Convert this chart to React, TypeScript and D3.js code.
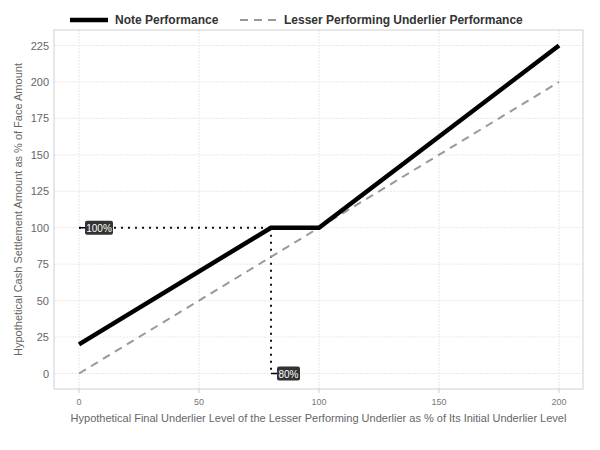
import React from "react";
import * as d3 from "d3";

const noteX = [0, 80, 100, 200];
const noteY = [20, 100, 100, 225];
const underX = [0, 200];
const underY = [0, 200];
const xTicks = [0, 50, 100, 150, 200];
const yTicks = [0, 25, 50, 75, 100, 125, 150, 175, 200, 225];
const barrierX = 80;
const capY = 100;
const labels = ["100%", "80%"];
const seriesNames = ["Note Performance", "Lesser Performing Underlier Performance"];

export default function App() {
  const W = 600, H = 450;
  const L = 54, R = 583, T = 30, B = 389;
  const x = d3.scaleLinear().domain([0, 200]).range([79, 559]);
  const y = d3.scaleLinear().domain([0, 225]).range([373.5, 45.5]);
  const line = d3.line<[number, number]>().x(d => x(d[0])).y(d => y(d[1]));
  const noteData: [number, number][] = noteX.map((v, i) => [v, noteY[i]]);
  const underData: [number, number][] = underX.map((v, i) => [v, underY[i]]);
  const font = "'Liberation Sans', Arial, sans-serif";
  return (
    <svg width={W} height={H} style={{ position: "absolute", left: 0, top: 0, background: "#fff" }} fontFamily={font}>
      <rect x={0} y={0} width={W} height={H} fill="#fff" />
      {/* grid */}
      {xTicks.map(t => (
        <line key={"gx" + t} x1={x(t)} x2={x(t)} y1={T} y2={B} stroke="#e3e3e3" strokeWidth={0.8} strokeDasharray="2,1" />
      ))}
      {yTicks.map(t => (
        <line key={"gy" + t} x1={L} x2={R} y1={y(t)} y2={y(t)} stroke="#e3e3e3" strokeWidth={0.8} strokeDasharray="2,1" />
      ))}
      <rect x={L} y={T} width={R - L} height={B - T} fill="none" stroke="#d0d0d0" strokeWidth={1} />
      {/* ticks */}
      {xTicks.map(t => (
        <g key={"tx" + t}>
          <line x1={x(t)} x2={x(t)} y1={B} y2={B + 4} stroke="#c8d0d8" />
          <text x={x(t)} y={B + 16} textAnchor="middle" fontSize={9} fill="#777">{t}</text>
        </g>
      ))}
      {yTicks.map(t => (
        <text key={"ty" + t} x={L - 5} y={y(t) + 4} textAnchor="end" fontSize={11} fill="#666">{t}</text>
      ))}
      {/* axis titles */}
      <text x={(L + R) / 2} y={422} textAnchor="middle" fontSize={11} fill="#666">
        Hypothetical Final Underlier Level of the Lesser Performing Underlier as % of Its Initial Underlier Level
      </text>
      <text transform={`translate(22,${(T + B) / 2}) rotate(-90)`} textAnchor="middle" fontSize={11} fill="#666">
        Hypothetical Cash Settlement Amount as % of Face Amount
      </text>
      {/* dotted reference lines */}
      <line x1={x(0)} x2={x(barrierX)} y1={y(capY)} y2={y(capY)} stroke="#111" strokeWidth={2} strokeDasharray="2,5" />
      <line x1={x(barrierX)} x2={x(barrierX)} y1={y(capY)} y2={y(0)} stroke="#111" strokeWidth={2} strokeDasharray="2,5" />
      {/* series */}
      <path d={line(underData) || ""} fill="none" stroke="#999" strokeWidth={2} strokeDasharray="8,6" />
      <path d={line(noteData) || ""} fill="none" stroke="#000" strokeWidth={4.5} />
      {/* labels */}
      <g>
        <line x1={x(0)} x2={x(0) + 7} y1={y(capY)} y2={y(capY)} stroke="#000" strokeWidth={1.5} />
        <rect x={x(0) + 6} y={y(capY) - 7} width={28} height={14} rx={2} fill="#333" />
        <text x={x(0) + 20} y={y(capY) + 4} textAnchor="middle" fontSize={10} fill="#fff">{labels[0]}</text>
      </g>
      <g>
        <line x1={x(barrierX)} x2={x(barrierX) + 7} y1={y(0)} y2={y(0)} stroke="#000" strokeWidth={1.5} />
        <rect x={x(barrierX) + 6} y={y(0) - 7} width={23} height={14} rx={2} fill="#333" />
        <text x={x(barrierX) + 17.5} y={y(0) + 4} textAnchor="middle" fontSize={10} fill="#fff">{labels[1]}</text>
      </g>
      {/* legend */}
      <line x1={70} x2={108} y1={20} y2={20} stroke="#000" strokeWidth={4.5} />
      <text x={115} y={24} fontSize={12} fontWeight="bold" fill="#333">{seriesNames[0]}</text>
      <line x1={240} x2={276} y1={20} y2={20} stroke="#999" strokeWidth={2} strokeDasharray="8,6" />
      <text x={284} y={24} fontSize={12} fontWeight="bold" fill="#333">{seriesNames[1]}</text>
    </svg>
  );
}
